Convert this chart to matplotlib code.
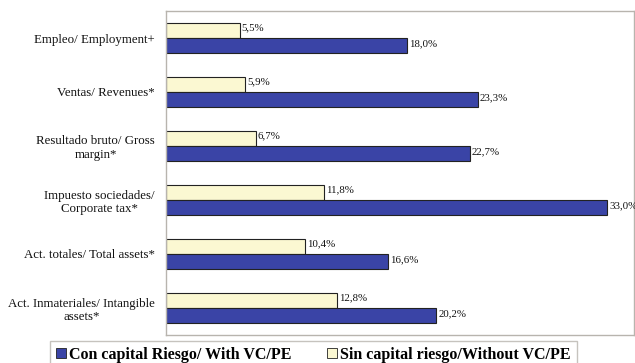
import matplotlib.pyplot as plt
import numpy as np
from matplotlib.patches import Patch

categories = [
    "Empleo/ Employment+",
    "Ventas/ Revenues*",
    "Resultado bruto/ Gross\nmargin*",
    "Impuesto sociedades/\nCorporate tax*",
    "Act. totales/ Total assets*",
    "Act. Inmateriales/ Intangible\nassets*",
]
sin_capital = [5.5, 5.9, 6.7, 11.8, 10.4, 12.8]
con_capital = [18.0, 23.3, 22.7, 33.0, 16.6, 20.2]

BLUE = "#3a44a6"
CREAM = "#fbf8d2"
SERIF = ["Liberation Serif", "DejaVu Serif"]
INK = "#111111"

fig = plt.figure(figsize=(6.35, 3.63), dpi=100)
ax = fig.add_axes([166 / 635, 28 / 363, 468 / 635, 324 / 363])

y = np.arange(len(categories))
h = 0.28

ax.barh(y - h / 2, sin_capital, height=h, color=CREAM, edgecolor="#222222", linewidth=0.8)
ax.barh(y + h / 2, con_capital, height=h, color=BLUE, edgecolor="#222222", linewidth=0.8)


def pct(v):
    return f"{v:.1f}%".replace(".", ",")


# value labels sit just right of each bar; the longest one runs off the figure edge
for yi, v in zip(y, sin_capital):
    ax.text(v + 0.15, yi - h / 2 - 0.04, pct(v), va="center", ha="left",
            fontsize=7.8, family=SERIF, color=INK, clip_on=False)
for yi, v in zip(y, con_capital):
    ax.text(v + 0.15, yi + h / 2 - 0.04, pct(v), va="center", ha="left",
            fontsize=7.8, family=SERIF, color=INK, clip_on=False)

ax.set_xlim(0, 35.0)
ax.set_ylim(5.5, -0.5)
ax.set_yticks(y)
ax.set_yticklabels(categories, family=SERIF, fontsize=9.3, color=INK,
                   multialignment="center", linespacing=1.15)
ax.tick_params(axis="y", length=0, pad=8)
ax.set_xticks([])
for side in ["top", "right", "bottom", "left"]:
    ax.spines[side].set_color("#b8b4ae")
    ax.spines[side].set_linewidth(1.0)

handles = [
    Patch(facecolor=BLUE, edgecolor="#222222", linewidth=0.6, label="Con capital Riesgo/ With VC/PE"),
    Patch(facecolor=CREAM, edgecolor="#222222", linewidth=0.6, label="Sin capital riesgo/Without VC/PE"),
]
leg = fig.legend(handles=handles, loc="upper left", bbox_to_anchor=(50 / 635, 22 / 363),
                 ncol=2, frameon=True, fancybox=False, borderaxespad=0,
                 prop={"family": SERIF, "weight": "bold", "size": 11.5},
                 handlelength=0.65, handleheight=0.65, handletextpad=0.2,
                 columnspacing=2.2, borderpad=0.35)
leg.get_frame().set_edgecolor("#b8b4ae")
leg.get_frame().set_linewidth(1.0)

fig.savefig("out.png", dpi=100)
